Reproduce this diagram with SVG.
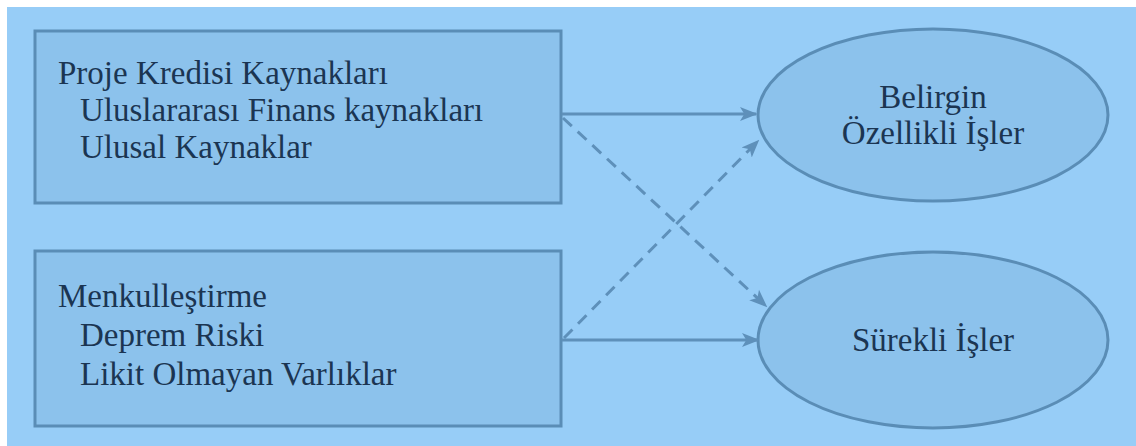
<svg xmlns="http://www.w3.org/2000/svg" width="1136" height="446" viewBox="0 0 1136 446">
<defs>
<style>
.box{fill:#8cc2ec;stroke:#5a8db6;stroke-width:3}
.ell{fill:#8cc2ec;stroke:#5a8db6;stroke-width:3}
.t{font-family:"Liberation Serif","Times New Roman",serif;font-size:33px;fill:#1b3552}
.c{text-anchor:middle}
.ln{stroke:#5e90ba;stroke-width:3;fill:none}
.d{stroke-dasharray:12 8}
</style>
<marker id="ah" viewBox="0 0 10 10" refX="9" refY="5" markerWidth="6" markerHeight="6" markerUnits="strokeWidth" orient="auto">
<path d="M0,1 L10,5 L0,9 L2.5,5 Z" fill="#5e90ba"/>
</marker>
</defs>
<rect x="0" y="0" width="1136" height="446" fill="#ffffff"/>
<rect x="7" y="7" width="1129" height="439" fill="#97cdf7"/>
<g id="node-proje">
<rect class="box" x="35" y="31" width="526" height="172"/>
<text class="t" x="58" y="84">Proje Kredisi Kaynakları</text>
<text class="t" x="80" y="121">Uluslararası Finans kaynakları</text>
<text class="t" x="80" y="158">Ulusal Kaynaklar</text>
</g>
<g id="node-menkul">
<rect class="box" x="35" y="251" width="526" height="175"/>
<text class="t" x="58" y="307">Menkulleştirme</text>
<text class="t" x="80" y="346">Deprem Riski</text>
<text class="t" x="80" y="385">Likit Olmayan Varlıklar</text>
</g>
<g id="node-belirgin">
<ellipse class="ell" cx="933" cy="115" rx="175" ry="86"/>
<text class="t c" x="933" y="108">Belirgin</text>
<text class="t c" x="933" y="144">Özellikli İşler</text>
</g>
<g id="node-surekli">
<ellipse class="ell" cx="933" cy="340" rx="175" ry="88"/>
<text class="t c" x="933" y="351">Sürekli İşler</text>
</g>
<g id="connectors">
<line class="ln" x1="562" y1="114" x2="756" y2="114" marker-end="url(#ah)"/>
<line class="ln" x1="562" y1="340" x2="758" y2="340" marker-end="url(#ah)"/>
<line class="ln d" x1="563" y1="118" x2="766" y2="306" marker-end="url(#ah)"/>
<line class="ln d" x1="564" y1="338" x2="758" y2="141" marker-end="url(#ah)"/>
</g>
</svg>
